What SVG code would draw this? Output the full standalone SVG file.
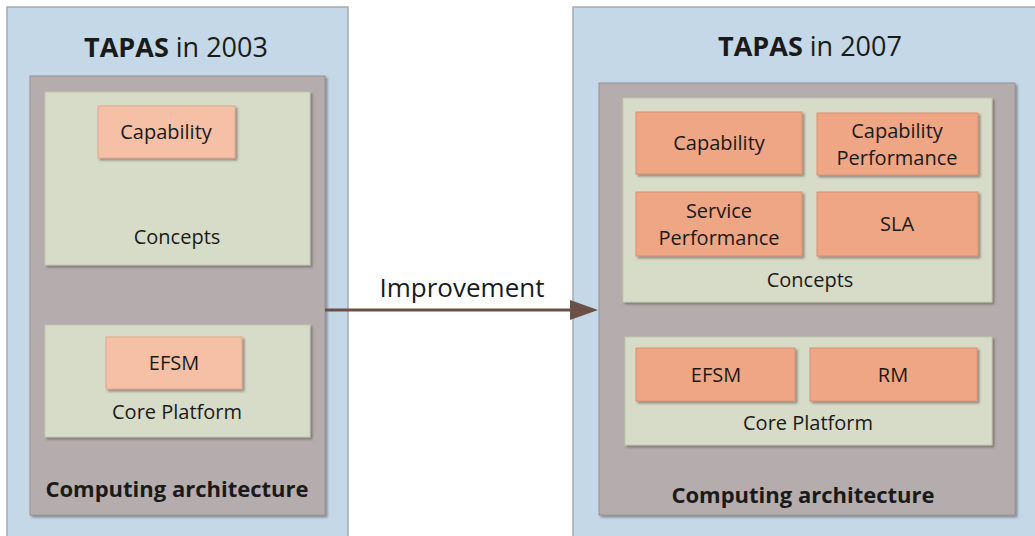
<svg xmlns="http://www.w3.org/2000/svg" width="1035" height="536" viewBox="0 0 1035 536">
  <style>
    text { font-family: "Open Sans", Lato, "Liberation Sans", sans-serif; fill: #1a1a1a; text-anchor: middle; dominant-baseline: central; }
    .panel { fill: #c4d8e8; stroke: #a3abb3; stroke-width: 1.5; }
    .arch { fill: #b5adad; stroke: #9a9292; stroke-width: 1; filter: url(#shadow); }
    .layer { fill: #d7dcc8; stroke: #c2c6b2; stroke-width: 1; filter: url(#shadow); }
    .item-light { fill: #f5c0a6; stroke: #e0a88c; stroke-width: 1; filter: url(#shadow); }
    .item { fill: #eea684; stroke: #d99272; stroke-width: 1; filter: url(#shadow); }
    .title { font-size: 27px; }
    .label { font-size: 20px; }
    .arch-label { font-size: 22px; font-weight: bold; }
    .edge { stroke: #6b5048; stroke-width: 3; fill: none; }
  </style>
  <defs>
    <filter id="shadow" x="-10%" y="-10%" width="125%" height="125%">
      <feDropShadow dx="2" dy="2" stdDeviation="1" flood-color="#5a4e4e" flood-opacity="0.55"/>
    </filter>
  </defs>

  <!-- TAPAS 2003 -->
  <g id="tapas-2003">
    <rect class="panel" x="7" y="7" width="341" height="535"/>
    <text class="title" x="176" y="46"><tspan font-weight="bold">TAPAS</tspan> in 2003</text>
    <g id="arch-2003">
      <rect class="arch" x="30" y="76" width="295" height="439"/>
      <text class="arch-label" x="177" y="488">Computing architecture</text>
    </g>
    <g id="concepts-2003">
      <rect class="layer" x="45" y="92" width="265" height="173"/>
      <text class="label" x="177" y="236">Concepts</text>
    </g>
    <g id="capability-2003">
      <rect class="item-light" x="98" y="106" width="137" height="52"/>
      <text class="label" x="166" y="131">Capability</text>
    </g>
    <g id="core-2003">
      <rect class="layer" x="45" y="325" width="265" height="112"/>
      <text class="label" x="177" y="411">Core Platform</text>
    </g>
    <g id="efsm-2003">
      <rect class="item-light" x="106" y="337" width="136" height="52"/>
      <text class="label" x="174" y="362">EFSM</text>
    </g>
  </g>

  <!-- TAPAS 2007 -->
  <g id="tapas-2007">
    <rect class="panel" x="573" y="7" width="470" height="535"/>
    <text class="title" x="810" y="45"><tspan font-weight="bold">TAPAS</tspan> in 2007</text>
    <g id="arch-2007">
      <rect class="arch" x="599" y="83" width="416" height="432"/>
      <text class="arch-label" x="803" y="494">Computing architecture</text>
    </g>
    <g id="concepts-2007">
      <rect class="layer" x="623" y="98" width="369" height="204"/>
      <text class="label" x="810" y="279">Concepts</text>
    </g>
    <g id="capability-2007">
      <rect class="item" x="636" y="112" width="166" height="62"/>
      <text class="label" x="719" y="142">Capability</text>
    </g>
    <g id="capability-performance-2007">
      <rect class="item" x="817" y="113" width="161" height="62"/>
      <text class="label" x="897" y="130">Capability</text>
      <text class="label" x="897" y="157">Performance</text>
    </g>
    <g id="service-performance-2007">
      <rect class="item" x="636" y="192" width="166" height="64"/>
      <text class="label" x="719" y="210">Service</text>
      <text class="label" x="719" y="237">Performance</text>
    </g>
    <g id="sla-2007">
      <rect class="item" x="817" y="192" width="161" height="64"/>
      <text class="label" x="897" y="223">SLA</text>
    </g>
    <g id="core-2007">
      <rect class="layer" x="625" y="337" width="367" height="108"/>
      <text class="label" x="808" y="422">Core Platform</text>
    </g>
    <g id="efsm-2007">
      <rect class="item" x="636" y="348" width="159" height="53"/>
      <text class="label" x="716" y="374">EFSM</text>
    </g>
    <g id="rm-2007">
      <rect class="item" x="810" y="348" width="167" height="53"/>
      <text class="label" x="893" y="374">RM</text>
    </g>
  </g>

  <!-- connectors -->
  <g id="connectors">
    <line class="edge" x1="325" y1="310" x2="572" y2="310"/>
    <path d="M570,300 L598,310 L570,320 Z" fill="#6b5048"/>
    <text x="462" y="287" font-size="26">Improvement</text>
  </g>
</svg>
